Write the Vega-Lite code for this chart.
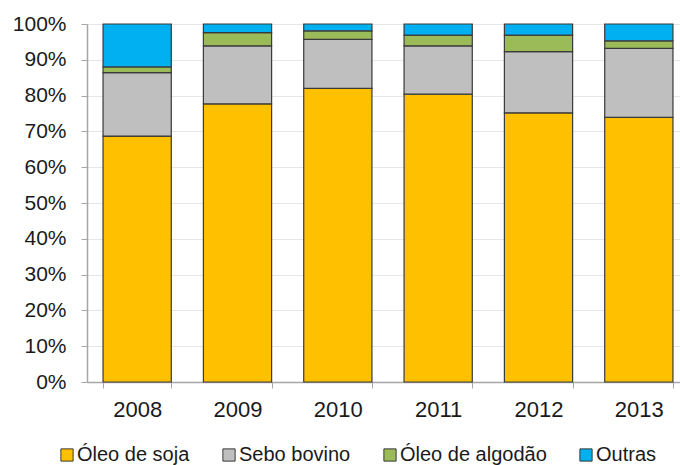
{
  "$schema": "https://vega.github.io/schema/vega-lite/v6.json",
  "autosize": {"type": "none"},
  "padding": {"left": 87, "top": 24, "right": 0, "bottom": 83},
  "width": 593,
  "height": 358,
  "background": "white",
  "config": {
    "font": "Liberation Sans",
    "view": {"stroke": null},
    "axis": {"labelFont": "Liberation Sans", "labelColor": "#1a1a1a"}
  },
  "data": {
    "values": [
      {"ano": "2008", "fonte": "Óleo de soja", "pct": 68.7},
      {"ano": "2008", "fonte": "Sebo bovino", "pct": 17.7},
      {"ano": "2008", "fonte": "Óleo de algodão", "pct": 1.6},
      {"ano": "2008", "fonte": "Outras", "pct": 12.0},
      {"ano": "2009", "fonte": "Óleo de soja", "pct": 77.7},
      {"ano": "2009", "fonte": "Sebo bovino", "pct": 16.2},
      {"ano": "2009", "fonte": "Óleo de algodão", "pct": 3.7},
      {"ano": "2009", "fonte": "Outras", "pct": 2.4},
      {"ano": "2010", "fonte": "Óleo de soja", "pct": 82.0},
      {"ano": "2010", "fonte": "Sebo bovino", "pct": 13.7},
      {"ano": "2010", "fonte": "Óleo de algodão", "pct": 2.4},
      {"ano": "2010", "fonte": "Outras", "pct": 1.9},
      {"ano": "2011", "fonte": "Óleo de soja", "pct": 80.4},
      {"ano": "2011", "fonte": "Sebo bovino", "pct": 13.5},
      {"ano": "2011", "fonte": "Óleo de algodão", "pct": 3.0},
      {"ano": "2011", "fonte": "Outras", "pct": 3.1},
      {"ano": "2012", "fonte": "Óleo de soja", "pct": 75.2},
      {"ano": "2012", "fonte": "Sebo bovino", "pct": 17.1},
      {"ano": "2012", "fonte": "Óleo de algodão", "pct": 4.6},
      {"ano": "2012", "fonte": "Outras", "pct": 3.1},
      {"ano": "2013", "fonte": "Óleo de soja", "pct": 73.9},
      {"ano": "2013", "fonte": "Sebo bovino", "pct": 19.3},
      {"ano": "2013", "fonte": "Óleo de algodão", "pct": 2.1},
      {"ano": "2013", "fonte": "Outras", "pct": 4.7}
    ]
  },
  "transform": [
    {"calculate": "indexof(['Óleo de soja', 'Sebo bovino', 'Óleo de algodão', 'Outras'], datum.fonte)", "as": "ordem"}
  ],
  "mark": {"type": "bar", "stroke": "#3a3a3a", "strokeWidth": 1.2},
  "encoding": {
    "x": {
      "field": "ano",
      "type": "nominal",
      "title": null,
      "scale": {"range": [0, 602], "paddingInner": 0.32, "paddingOuter": 0.16},
      "axis": {
        "labelAngle": 0,
        "labelFontSize": 22,
        "labelPadding": 11,
        "tickBand": "extent",
        "tickSize": 6,
        "tickColor": "#a6a6a6",
        "domainColor": "#a6a6a6",
        "domainWidth": 1.5,
        "grid": false
      }
    },
    "y": {
      "field": "pct",
      "type": "quantitative",
      "stack": "zero",
      "title": null,
      "scale": {"domain": [0, 100], "nice": false},
      "axis": {
        "values": [0, 10, 20, 30, 40, 50, 60, 70, 80, 90, 100],
        "labelExpr": "datum.value + '%'",
        "labelFontSize": 21,
        "labelPadding": 15,
        "tickSize": 6,
        "tickColor": "#a6a6a6",
        "domainColor": "#a6a6a6",
        "domainWidth": 1.5,
        "gridColor": "#e6e6e6",
        "gridWidth": 1
      }
    },
    "color": {
      "field": "fonte",
      "type": "nominal",
      "title": null,
      "scale": {
        "domain": ["Óleo de soja", "Sebo bovino", "Óleo de algodão", "Outras"],
        "range": ["#ffc000", "#bfbfbf", "#9bbb59", "#00b0f0"]
      },
      "legend": {
        "orient": "none",
        "direction": "horizontal",
        "legendX": -30,
        "legendY": 421,
        "symbolType": "square",
        "symbolSize": 150,
        "symbolStrokeColor": "#3a3a3a",
        "symbolStrokeWidth": 1,
        "labelFontSize": 20,
        "labelColor": "#1a1a1a",
        "labelOffset": 0,
        "columnPadding": 29,
        "labelLimit": 300
      }
    },
    "order": {"field": "ordem", "type": "quantitative", "sort": "ascending"}
  }
}
